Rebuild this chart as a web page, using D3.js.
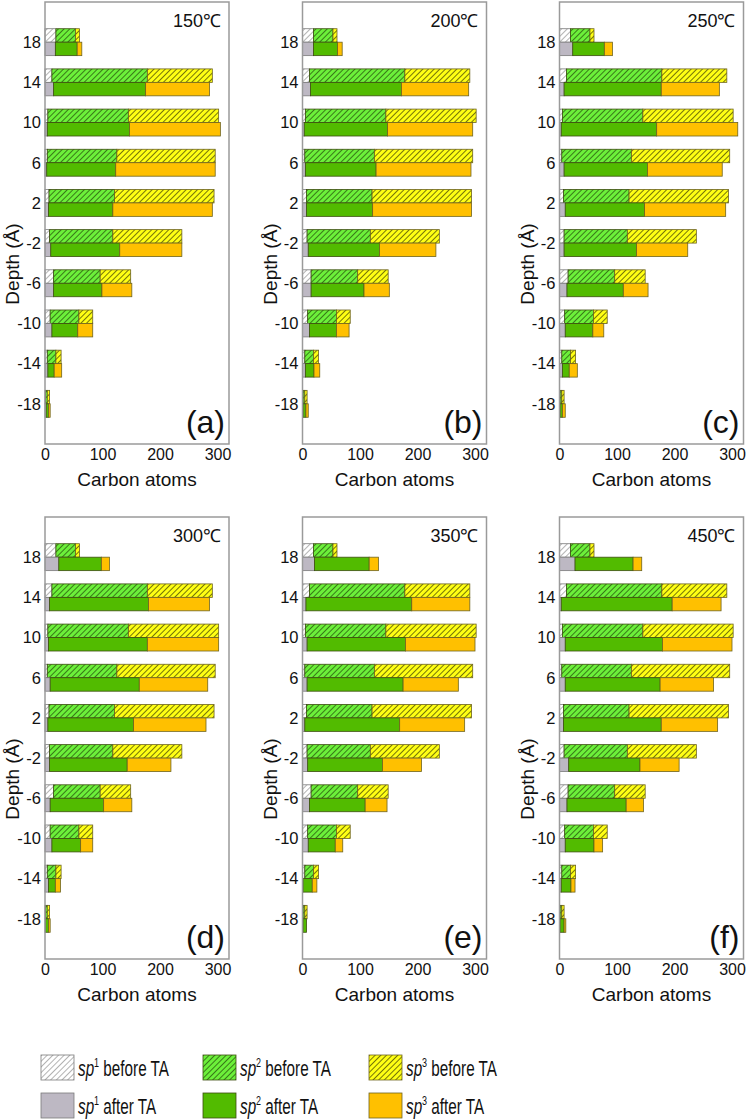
<!DOCTYPE html>
<html>
<head>
<meta charset="utf-8">
<script src="https://cdn.jsdelivr.net/npm/d3@7"></script>
<style>
  html, body { margin: 0; padding: 0; background: #fff; }
  svg { display: block; font-family: "Liberation Sans", Arial, sans-serif; }
</style>
</head>
<body>
<svg id="chart" width="746" height="1120"></svg>
<script>
// ---------------- data ----------------
const depths = [18, 14, 10, 6, 2, -2, -6, -10, -14, -18];
const xTicks = [0, 100, 200, 300];
const temps = ["150\u2103", "200\u2103", "250\u2103", "300\u2103", "350\u2103", "450\u2103"];
const panelLetters = ["(a)", "(b)", "(c)", "(d)", "(e)", "(f)"];

// before thermal annealing (same initial structure for all panels)
const sp1Before = [19, 12, 5, 4, 7, 8, 15, 9, 4, 1];
const sp2Before = [34, 166, 140, 121, 114, 110, 81, 50, 15, 3];
const sp3Before = [7, 113, 157, 171, 173, 120, 53, 24, 9, 4];

// after thermal annealing
const sp1After150 = [18, 15, 4, 3, 6, 10, 15, 12, 5, 2];
const sp2After150 = [38, 160, 143, 120, 112, 120, 84, 45, 11, 4];
const sp3After150 = [8, 111, 158, 173, 173, 108, 52, 26, 13, 3];

const sp1After200 = [19, 14, 3, 5, 7, 10, 15, 12, 5, 1];
const sp2After200 = [42, 158, 145, 123, 115, 124, 92, 47, 15, 5];
const sp3After200 = [8, 117, 148, 165, 172, 98, 44, 22, 10, 4];

const sp1After250 = [23, 8, 3, 8, 10, 8, 13, 10, 5, 1];
const sp2After250 = [55, 169, 166, 145, 138, 126, 98, 48, 12, 4];
const sp3After250 = [14, 101, 141, 130, 141, 89, 43, 19, 14, 5];

const sp1After300 = [24, 8, 6, 9, 5, 8, 9, 12, 6, 1];
const sp2After300 = [74, 172, 172, 155, 149, 135, 93, 50, 12, 5];
const sp3After300 = [14, 106, 124, 119, 126, 76, 49, 21, 9, 3];

const sp1After350 = [21, 6, 8, 8, 4, 9, 12, 10, 1, 1];
const sp2After350 = [95, 184, 171, 167, 165, 130, 97, 47, 16, 6];
const sp3After350 = [16, 101, 121, 96, 113, 68, 38, 13, 8, 0];

const sp1After450 = [27, 3, 10, 10, 7, 16, 13, 10, 3, 1];
const sp2After450 = [101, 193, 169, 165, 170, 124, 103, 50, 17, 7];
const sp3After450 = [15, 85, 121, 93, 98, 68, 30, 15, 7, 3];

const afterSets = [
  [sp1After150, sp2After150, sp3After150],
  [sp1After200, sp2After200, sp3After200],
  [sp1After250, sp2After250, sp3After250],
  [sp1After300, sp2After300, sp3After300],
  [sp1After350, sp2After350, sp3After350],
  [sp1After450, sp2After450, sp3After450]
];

const legendLabels = [
  ["1", " before TA"], ["2", " before TA"], ["3", " before TA"],
  ["1", " after TA"], ["2", " after TA"], ["3", " after TA"]
];

// ---------------- style ----------------
const keys = ["sp1", "sp2", "sp3"];
const afterColors = { sp1: "#bdb8c3", sp2: "#52bb00", sp3: "#ffc000" };
const beforeBg = { sp1: "#ffffff", sp2: "#6cf03a", sp3: "#ffff14" };
const hatchInk = { sp1: "#8a8a8a", sp2: "#1b3a05", sp3: "#2a2a00" };
const outline = { sp1: "#7a7a7a", sp2: "#3d4d10", sp3: "#6e6420" };

const svg = d3.select("#chart");
const defs = svg.append("defs");
keys.forEach(k => {
  const p = defs.append("pattern")
    .attr("id", "hatch-" + k)
    .attr("patternUnits", "userSpaceOnUse")
    .attr("width", 4).attr("height", 4)
    .attr("patternTransform", "rotate(45)");
  p.append("rect").attr("width", 4).attr("height", 4).attr("fill", beforeBg[k]);
  p.append("line").attr("x1", 0).attr("y1", 0).attr("x2", 0).attr("y2", 4)
    .attr("stroke", hatchInk[k]).attr("stroke-width", 1.3);
});

// ---------------- layout ----------------
const panelW = 184;
const lefts = [45, 302.5, 559.5];
const tops = [2, 517];
const panelH = 442;

const x = d3.scaleLinear().domain([0, 320]).range([0, panelW]);

function rowsFrom(a1, a2, a3) {
  return depths.map((d, i) => ({ depth: d, sp1: a1[i], sp2: a2[i], sp3: a3[i] }));
}
const stack = d3.stack().keys(keys);
const beforeStack = stack(rowsFrom(sp1Before, sp2Before, sp3Before));

afterSets.forEach((set, pi) => {
  const col = pi % 3, row = Math.floor(pi / 3);
  const g = svg.append("g").attr("transform", `translate(${lefts[col]},${tops[row]})`);
  const y = d3.scaleLinear().domain([22, -22]).range([0, panelH]);
  const barH = (y(0) - y(4)) * 0.335;

  const afterStack = stack(rowsFrom(set[0], set[1], set[2]));

  // before bars (hatched), above depth line
  beforeStack.forEach(layer => {
    const k = layer.key;
    g.append("g").selectAll("rect").data(layer).join("rect")
      .attr("x", d => x(d[0]))
      .attr("y", d => y(d.data.depth) - barH)
      .attr("width", d => Math.max(0, x(d[1]) - x(d[0])))
      .attr("height", barH)
      .attr("fill", `url(#hatch-${k})`)
      .attr("stroke", outline[k]).attr("stroke-width", 0.8);
  });
  // after bars (solid), below depth line
  afterStack.forEach(layer => {
    const k = layer.key;
    g.append("g").selectAll("rect").data(layer).join("rect")
      .attr("x", d => x(d[0]))
      .attr("y", d => y(d.data.depth))
      .attr("width", d => Math.max(0, x(d[1]) - x(d[0])))
      .attr("height", barH)
      .attr("fill", afterColors[k])
      .attr("stroke", outline[k]).attr("stroke-width", 0.8);
  });

  // frame
  g.append("rect").attr("x", 0).attr("y", 0).attr("width", panelW).attr("height", panelH)
    .attr("fill", "none").attr("stroke", "#9a9a9a").attr("stroke-width", 1.5);

  // axes
  const xa = g.append("g").attr("transform", `translate(0,${panelH})`)
    .call(d3.axisBottom(x).tickValues(xTicks).tickSize(0).tickPadding(5)
      .tickFormat(d => String(d)));
  xa.select(".domain").remove();
  xa.selectAll("text").attr("font-size", 16).attr("fill", "#111")
    .attr("font-family", "Liberation Sans, Arial, sans-serif");

  const ya = g.append("g")
    .call(d3.axisLeft(y).tickValues(depths).tickSize(0).tickPadding(4)
      .tickFormat(d => String(d)));
  ya.select(".domain").remove();
  ya.selectAll("text").attr("font-size", 16.5).attr("fill", "#111")
    .attr("font-family", "Liberation Sans, Arial, sans-serif");

  // axis titles
  g.append("text").attr("x", panelW / 2).attr("y", panelH + 42)
    .attr("text-anchor", "middle").attr("font-size", 19).attr("fill", "#111")
    .text("Carbon atoms");
  g.append("text")
    .attr("transform", `translate(${-26},${262}) rotate(-90)`)
    .attr("text-anchor", "middle").attr("font-size", 19).attr("fill", "#111")
    .text("Depth (\u00C5)");

  // temperature and letter
  g.append("text").attr("x", panelW - 8).attr("y", 25)
    .attr("text-anchor", "end").attr("font-size", 18).attr("fill", "#111")
    .text(temps[pi]);
  g.append("text").attr("x", panelW - 4).attr("y", panelH - 11)
    .attr("text-anchor", "end").attr("font-size", 32).attr("fill", "#111")
    .text(panelLetters[pi]);
});

// ---------------- legend ----------------
const legX = [41, 203, 369];
const legY = [1055, 1093];
const legendKeys = ["sp1", "sp2", "sp3", "sp1", "sp2", "sp3"];
let legendScale = null;
legendLabels.forEach((lab, i) => {
  const col = i % 3, row = Math.floor(i / 3);
  const k = legendKeys[i];
  const lg = svg.append("g").attr("transform", `translate(${legX[col]},${legY[row]})`);
  lg.append("rect").attr("width", 33).attr("height", 25)
    .attr("fill", row === 0 ? `url(#hatch-${k})` : afterColors[k])
    .attr("stroke", outline[k]).attr("stroke-width", 0.8);
  const t = lg.append("text").attr("x", 0).attr("y", 0)
    .attr("font-size", 22).attr("fill", "#111")
    .attr("font-family", "'Liberation Sans', Arial, sans-serif");
  t.append("tspan").attr("font-style", "italic").text("sp");
  t.append("tspan").attr("font-size", 13).attr("dy", -9).text(lab[0]);
  t.append("tspan").attr("dy", 9).text(lab[1]);
  // narrow-font look: condense horizontally so label widths match the original
  if (legendScale === null) {
    const w = t.node().getComputedTextLength();
    legendScale = w > 0 ? Math.min(1, 91 / w) : 0.75;
  }
  t.attr("transform", `translate(37,20.5) scale(${legendScale},1)`);
});
</script>
</body>
</html>
